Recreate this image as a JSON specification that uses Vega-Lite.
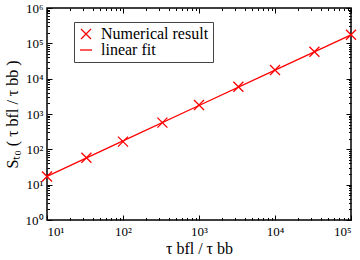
{
  "$schema": "https://vega.github.io/schema/vega-lite/v6.json",
  "width": 304,
  "height": 212,
  "autosize": "none",
  "padding": {"left": 47, "top": 8, "right": 9, "bottom": 40},
  "background": "white",
  "config": {
    "font": "Liberation Serif",
    "view": {"stroke": "#000", "strokeWidth": 1.5},
    "axis": {"grid": false, "domain": false, "tickColor": "#000", "labelColor": "#000", "titleColor": "#000", "labelFont": "Liberation Serif", "titleFont": "Liberation Serif", "titleFontWeight": "normal"}
  },
  "datasets": {
    "pts": [
      {"x": 10, "y": 17, "series": "Numerical result"},
      {"x": 33, "y": 58, "series": "Numerical result"},
      {"x": 100, "y": 165, "series": "Numerical result"},
      {"x": 330, "y": 570, "series": "Numerical result"},
      {"x": 1000, "y": 1800, "series": "Numerical result"},
      {"x": 3300, "y": 5900, "series": "Numerical result"},
      {"x": 10000, "y": 17500, "series": "Numerical result"},
      {"x": 33000, "y": 58000, "series": "Numerical result"},
      {"x": 100000, "y": 174000, "series": "Numerical result"}
    ],
    "fit": [
      {"x": 10, "y": 17.2},
      {"x": 100, "y": 173},
      {"x": 1000, "y": 1740},
      {"x": 10000, "y": 17400},
      {"x": 100000, "y": 174000}
    ]
  },
  "layer": [
    {
      "data": {"name": "fit"},
      "mark": {"type": "line", "color": "#ff0000", "strokeWidth": 1.3},
      "encoding": {
        "x": {"field": "x", "type": "quantitative", "scale": {"type": "log", "domain": [10, 100000], "nice": false},
          "axis": {"orient": "bottom", "values": [10, 100, 1000, 10000, 100000], "tickSize": -5, "labelPadding": 10, "labelFontSize": 13,
            "labelExpr": "'10' + ['⁰','¹','²','³','⁴','⁵','⁶'][round(log(datum.value)/LN10)]",
            "title": "τ bfl / τ bb", "titleFontSize": 16, "titlePadding": 2}},
        "y": {"field": "y", "type": "quantitative", "scale": {"type": "log", "domain": [1, 1000000], "nice": false},
          "axis": {"orient": "left", "values": [1, 10, 100, 1000, 10000, 100000, 1000000], "tickSize": -5, "labelPadding": 9, "labelFontSize": 13,
            "labelExpr": "'10' + ['⁰','¹','²','³','⁴','⁵','⁶'][round(log(datum.value)/LN10)]",
            "title": "Sₜ₀ ( τ bfl / τ bb )", "titleFontSize": 16, "titlePadding": 5}}
      }
    },
    {
      "data": {"name": "pts"},
      "mark": {"type": "point", "filled": false, "color": "#ff0000", "strokeWidth": 1.3, "size": 100, "opacity": 1},
      "encoding": {
        "x": {"field": "x", "type": "quantitative", "scale": {"type": "log", "domain": [10, 100000], "nice": false},
          "axis": {"orient": "top", "values": [10, 100, 1000, 10000, 100000], "tickSize": -5, "labels": false, "title": null}},
        "y": {"field": "y", "type": "quantitative", "scale": {"type": "log", "domain": [1, 1000000], "nice": false},
          "axis": {"orient": "right", "values": [1, 10, 100, 1000, 10000, 100000, 1000000], "tickSize": -5, "labels": false, "title": null}},
        "shape": {"field": "series", "type": "nominal",
          "scale": {"domain": ["Numerical result", "linear fit"], "range": ["M-1,-1L1,1M-1,1L1,-1", "M-1.2,0L1.2,0"]},
          "legend": {"title": null, "orient": "none", "legendX": 27, "legendY": 14, "strokeColor": "#444", "fillColor": "white", "padding": 4,
            "labelFont": "Liberation Serif", "labelFontSize": 16, "labelColor": "#000", "labelOffset": 7, "symbolSize": 100, "symbolStrokeWidth": 1.3, "symbolStrokeColor": "#ff0000", "symbolFillColor": "transparent", "rowPadding": 0}}
      }
    },
    {
      "data": {"name": "pts"},
      "mark": {"type": "point", "opacity": 0},
      "encoding": {
        "x": {"field": "x", "type": "quantitative", "scale": {"type": "log", "domain": [10, 100000], "nice": false},
          "axis": {"orient": "bottom", "values": [20,30,40,50,60,70,80,90,200,300,400,500,600,700,800,900,2000,3000,4000,5000,6000,7000,8000,9000,20000,30000,40000,50000,60000,70000,80000,90000], "tickSize": -2.5, "labels": false, "title": null}},
        "y": {"field": "y", "type": "quantitative", "scale": {"type": "log", "domain": [1, 1000000], "nice": false},
          "axis": {"orient": "left", "values": [2,3,4,5,6,7,8,9,20,30,40,50,60,70,80,90,200,300,400,500,600,700,800,900,2000,3000,4000,5000,6000,7000,8000,9000,20000,30000,40000,50000,60000,70000,80000,90000,200000,300000,400000,500000,600000,700000,800000,900000], "tickSize": -2.5, "labels": false, "title": null}}
      }
    },
    {
      "data": {"name": "pts"},
      "mark": {"type": "point", "opacity": 0},
      "encoding": {
        "x": {"field": "x", "type": "quantitative", "scale": {"type": "log", "domain": [10, 100000], "nice": false},
          "axis": {"orient": "top", "values": [20,30,40,50,60,70,80,90,200,300,400,500,600,700,800,900,2000,3000,4000,5000,6000,7000,8000,9000,20000,30000,40000,50000,60000,70000,80000,90000], "tickSize": -2.5, "labels": false, "title": null}},
        "y": {"field": "y", "type": "quantitative", "scale": {"type": "log", "domain": [1, 1000000], "nice": false},
          "axis": {"orient": "right", "values": [2,3,4,5,6,7,8,9,20,30,40,50,60,70,80,90,200,300,400,500,600,700,800,900,2000,3000,4000,5000,6000,7000,8000,9000,20000,30000,40000,50000,60000,70000,80000,90000,200000,300000,400000,500000,600000,700000,800000,900000], "tickSize": -2.5, "labels": false, "title": null}}
      }
    }
  ],
  "resolve": {"axis": {"x": "independent", "y": "independent"}}
}
